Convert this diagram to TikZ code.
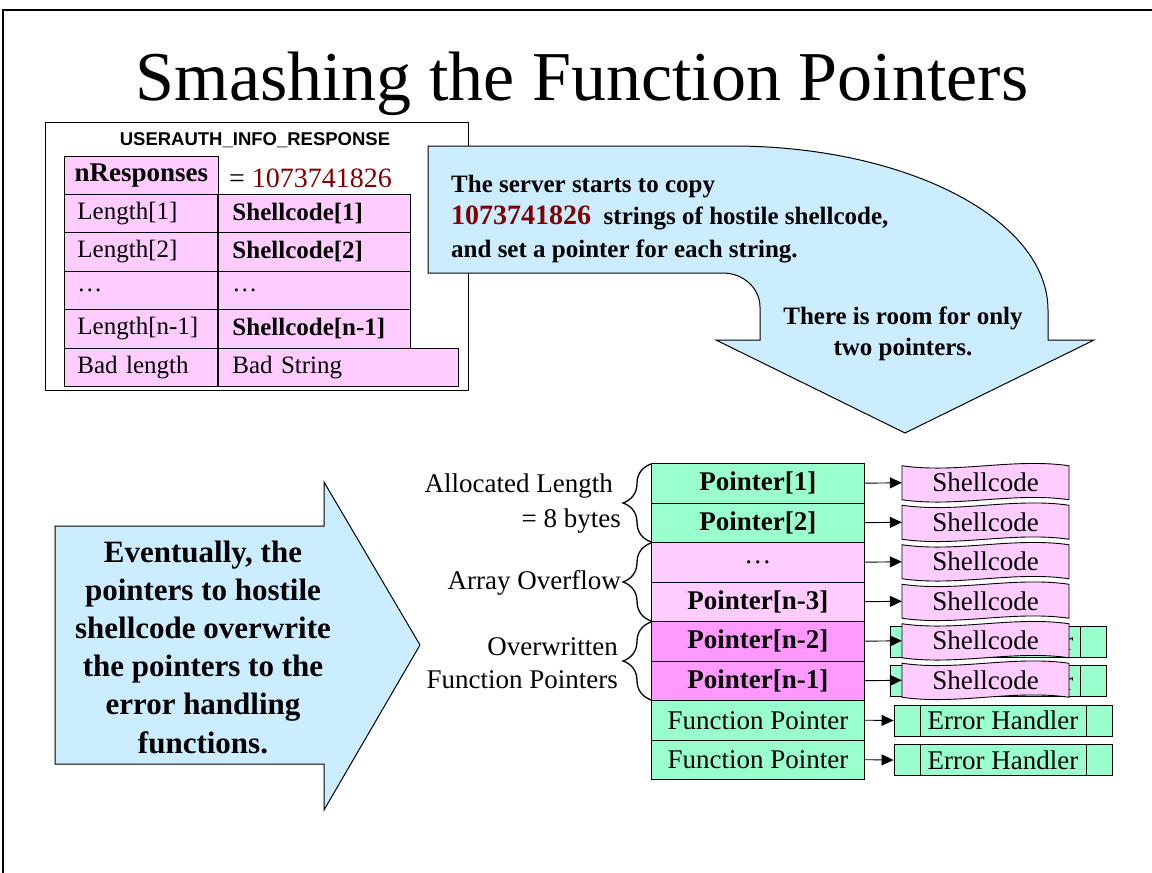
\documentclass[tikz,border=0pt]{standalone}
\usepackage{fontspec}
\setmainfont{Liberation Serif}
\newfontfamily\sansb{Liberation Sans}
\usetikzlibrary{arrows.meta,decorations.pathreplacing,calc}
\definecolor{mint}{RGB}{153,255,204}
\definecolor{pinkc}{RGB}{255,204,255}
\definecolor{magc}{RGB}{255,153,255}
\definecolor{skyc}{RGB}{204,236,255}
\definecolor{redc}{RGB}{128,0,0}
\newcommand\tfont{\fontsize{25}{30}\selectfont}
\newcommand\mfont{\fontsize{27}{32}\selectfont}
\newcommand\mfontb{\fontsize{27}{32}\selectfont\bfseries}
\newcommand\shellwave[1]{\begin{scope}[shift={(#1)}]
  \filldraw[fill=pinkc, line width=0.9pt] (-83.5,-17) .. controls (-28,-9) and (28,-25) .. (83.5,-17) -- (83.5,17) .. controls (28,9) and (-28,25) .. (-83.5,17) -- cycle;
\end{scope}}
\begin{document}
\begin{tikzpicture}[x=1pt,y=-1pt,
  cellL/.style={draw, line width=0.9pt, fill=pinkc, anchor=north west, minimum height=38.5pt, text width=127pt, inner xsep=13pt, inner ysep=0pt, align=left, font=\tfont},
  cellR/.style={cellL, text width=164pt, inner xsep=14pt},
  mem/.style={draw, line width=0.9pt, minimum width=213pt, minimum height=39.5pt, inner sep=0pt, anchor=north west, font=\mfont},
  memb/.style={mem, font=\mfontb},
  shell/.style={minimum width=167pt, minimum height=34pt, inner sep=0pt, font=\mfont},
  eh/.style={draw, line width=0.9pt, fill=mint, minimum height=31pt, inner sep=0pt, font=\mfont},
  conn/.style={line width=0.9pt, -{Triangle[length=12pt,width=11pt]}},
  brc/.style={decorate, decoration={brace, amplitude=28pt}, line width=1.3pt},
  bigarrow/.style={draw, line width=1pt, fill=skyc}
]
\useasboundingbox (0,0) rectangle (1152,873);
\fill[white] (0,0) rectangle (1152,873);
% frame
\draw[line width=2pt] (3,873) -- (3,10) -- (1152,10);
% title
\node[anchor=base, font=\fontsize{70}{80}\selectfont, inner sep=0pt] (title) at (582,100) {Smashing the Function Pointers};

% USERAUTH box
\node[draw, line width=1.2pt, fill=white, minimum width=423pt, minimum height=268pt, anchor=north west, inner sep=0pt] (resp) at (45,122) {};
\node[font=\sansb\bfseries\fontsize{18.5}{22}\selectfont] (resptitle) at (255,140) {USERAUTH\_INFO\_RESPONSE};
\node[draw, line width=0.9pt, fill=pinkc, anchor=north west, minimum width=154pt, minimum height=37.5pt, inner sep=0pt, font=\fontsize{27}{32}\selectfont\bfseries] (nresp) at (64,156) {nResponses};
\node[anchor=west, font=\fontsize{28}{32}\selectfont, inner sep=0pt] (nval) at (229,178) {= \textcolor{redc}{1073741826}};
\node[cellL] (L1) at (64,193.5) {Length[1]};
\node[cellL] (L2) at (64,232) {Length[2]};
\node[cellL] (L3) at (64,270.5) {…};
\node[cellL] (L4) at (64,309) {Length[n-1]};
\node[cellL] (L5) at (64,347.5) {Bad length};
\node[cellR, font=\tfont\bfseries] (R1) at (218,193.5) {Shellcode[1]};
\node[cellR, font=\tfont\bfseries] (R2) at (218,232) {Shellcode[2]};
\node[cellR] (R3) at (218,270.5) {…};
\node[cellR, font=\tfont\bfseries] (R4) at (218,309) {Shellcode[n-1]};
\node[cellR, text width=212pt] (R5) at (218,347.5) {Bad String};

% top bent arrow
\draw[bigarrow] (428,146) -- (732,146) .. controls (906,146) and (1048,219) .. (1048,310) -- (1048,340) -- (1094,340) -- (905,433) -- (716,340) -- (760,340) -- (760,307) .. controls (760,288) and (743,273) .. (723,273) -- (428,273) -- cycle;
\node[anchor=west, align=left, inner sep=0pt, font=\fontsize{25}{32.5}\selectfont\bfseries] (copytext) at (451,219)
  {The server starts to copy\\\textcolor{redc}{\fontsize{28}{32}\selectfont 1073741826}\ \ strings of hostile shellcode,\\and set a pointer for each string.};
\node[align=center, inner sep=0pt, font=\fontsize{25}{31}\selectfont\bfseries] (roomtext) at (903,334) {There is room for only\\two pointers.};

% left arrow
\draw[bigarrow] (55,526) -- (324,526) -- (324,482) -- (420,645) -- (324,810) -- (324,764) -- (55,764) -- cycle;
\node[align=center, inner sep=0pt, font=\fontsize{31}{38.2}\selectfont\bfseries] (evtext) at (203,647)
  {Eventually, the\\pointers to hostile\\shellcode overwrite\\the pointers to the\\error handling\\functions.};

% memory column
\node[memb, fill=mint] (p1) at (651,463) {Pointer[1]};
\node[memb, fill=mint] (p2) at (651,502.5) {Pointer[2]};
\node[mem, fill=pinkc] (p3) at (651,542) {…};
\node[memb, fill=pinkc] (p4) at (651,581.5) {Pointer[n-3]};
\node[memb, fill=magc] (p5) at (651,621) {Pointer[n-2]};
\node[memb, fill=magc] (p6) at (651,660.5) {Pointer[n-1]};
\node[mem, fill=mint] (p7) at (651,700) {Function Pointer};
\node[mem, fill=mint] (p8) at (651,739.5) {Function Pointer};

% error handlers
\node[eh, minimum width=216pt] (e5) at (998,641.5) {Error Handler};
\node[eh, minimum width=216pt] (e6) at (998,681) {Error Handler};
\node[eh, minimum width=218pt] (e7) at (1003,720.5) {Error Handler};
\node[eh, minimum width=218pt] (e8) at (1003,760) {Error Handler};
\foreach \e in {e5,e6,e7,e8}{
  \draw[line width=0.9pt] ([xshift=27pt]\e.north west) -- ([xshift=27pt]\e.south west);
  \draw[line width=0.9pt] ([xshift=-26pt]\e.north east) -- ([xshift=-26pt]\e.south east);
}

% shellcode
\coordinate (c1) at (985.5,482.75);
\coordinate (c2) at (985.5,522.25);
\coordinate (c3) at (985.5,561.75);
\coordinate (c4) at (985.5,601.25);
\coordinate (c5) at (985.5,640.75);
\coordinate (c6) at (985.5,680.25);
\foreach \i in {1,...,6}{
  \shellwave{c\i}
  \node[shell] (s\i) at (c\i) {Shellcode};
}

% connectors
\foreach \i in {1,...,6}{
  \draw[conn] (p\i.east) -- (s\i.west);
}
\draw[conn] (p7.east) -- (e7.west);
\draw[conn] (p8.east) -- (e8.west);

% braces
\draw[brc] ([yshift=1pt]p2.south west) -- ([yshift=-1pt]p1.north west);
\draw[brc] ([yshift=1pt]p4.south west) -- ([yshift=-1pt]p3.north west);
\draw[brc] ([yshift=1pt]p6.south west) -- ([yshift=-1pt]p5.north west);

\node[anchor=east, align=right, inner sep=0pt, font=\fontsize{27}{35}\selectfont] (lab1) at (621,504) {Allocated Length\hspace*{8pt}\\= 8 bytes};
\node[anchor=east, inner sep=0pt, font=\mfont] (lab2) at (621,583) {Array Overflow};
\node[anchor=east, align=right, inner sep=0pt, font=\fontsize{27}{33}\selectfont] (lab3) at (618,663) {Overwritten\\Function Pointers};
\end{tikzpicture}
\end{document}
